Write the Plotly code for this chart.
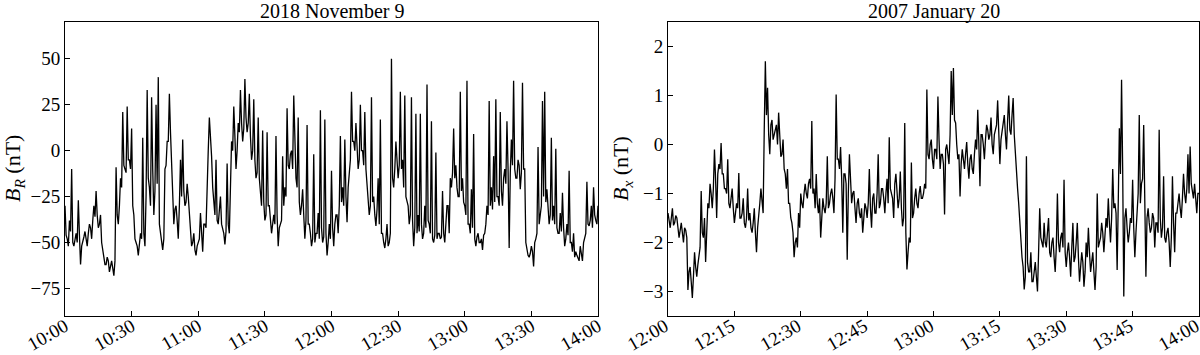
import numpy as np
import pandas as pd
import plotly.graph_objects as go
from plotly.subplots import make_subplots

# ── 2018 November 9 : B_R (nT), 10:00 → 14:00 ──
# spikes / extremes at each full minute
br_peaks = [
    -30, -48, -38, -10, -52, -45, -27, -62, -50, -44,
    -52, -40, -48, -30, -22, -42, -35, -56, -62, -58,
    -66, -60, -68, -9, -40, -15, 21, -10, 24, -5,
    12, -35, -50, -57, -45, 7, -52, 33, -20, 29,
    -35, 25, 40, -46, -54, -10, 5, 31, -5, -40,
    -30, -48, -5, 6, -30, -18, -34, -52, -45, -57,
    -50, -34, -55, -40, -12, 18, -3, -30, -5, -40,
    -25, -42, -51, -7, -45, 5, 24, -10, 15, 33,
    5, 39, 10, 31, -5, 28, -15, 18, -25, 11,
    -38, 10, -30, -45, -35, 8, -52, -40, -3, -20,
    23, -10, 0, 30, -15, 18, -35, -21, -48, 14,
    -40, -52, -2, -45, -34, 22, -50, 17, -57, -40,
    -11, -52, -35, -45, 8, -20, 6, -39, -12, 32,
    5, 15, -10, 25, 0, 21, -20, -35, 29, -25,
    -41, -15, 17, -45, -53, -40, -50, 50, -20, 5,
    -15, 32, -5, 30, -27, -40, 29, -52, 20, -35,
    20, -48, -30, 36, -40, 16, -50, -1, -45, -48,
    -22, -50, -30, -45, -20, 12, -8, -25, 32, -15,
    -30, 38, -40, -21, 9, -52, -45, -50, -54, -45,
    -30, 27, -20, -3, 28, -25, 21, -30, -10, 16,
    -53, 6, 38, -15, -5, -21, 37, -10, -55, -58,
    -52, -63, -48, 2, -35, 27, 32, -21, -40, 7,
    -30, 1, -45, -34, -23, -52, -40, -11, -50, -45,
    -55, -59, -52, -60, -48, -17, -41, -30, -20, -38,
    -30,
]
# dense core of the band, half a minute after each full minute
br_core = [
    -46, -52, -44, -50, -48, -50, -46, -52, -47, -49,
    -45, -42, -38, -36, -35, -40, -50, -58, -62, -60,
    -63, -64, -60, -35, -30, -20, -8, -12, -5, -10,
    -30, -48, -52, -50, -48, -45, -25, -15, -30, -10,
    -22, -18, -40, -50, -48, -8, 5, 10, -20, -32,
    -38, -30, -25, -22, -28, -25, -45, -50, -54, -52,
    -48, -44, -40, -42, 0, 8, -20, -35, -38, -32,
    -40, -45, -44, -40, -20, 0, 8, 0, 10, 15,
    12, 18, 15, 8, 0, -5, -12, -15, -30, -28,
    -35, -30, -38, -40, -40, -35, -42, -38, -30, -25,
    -8, -2, -10, 0, -20, -28, -30, -35, -38, -40,
    -45, -48, -50, -45, -48, -42, -47, -45, -50, -48,
    -42, -40, -35, -30, -28, -30, -25, -20, -5, 5,
    0, 5, -5, 0, -8, -10, -25, -30, -28, -35,
    -32, -40, -45, -50, -48, -52, -45, -15, -10, -5,
    -8, -10, -20, -25, -30, -35, -38, -42, -45, -44,
    -40, -45, -42, -38, -45, -48, -46, -48, -45, -47,
    -45, -42, -30, -15, -12, -15, -20, -25, -22, -28,
    -35, -40, -45, -42, -48, -47, -50, -48, -46, -40,
    -35, -30, -32, -28, -25, -30, -22, -15, -18, -10,
    -12, -8, -10, -15, -8, -12, -10, -50, -57, -56,
    -55, -50, -45, -40, -30, -25, -28, -32, -35, -38,
    -40, -42, -45, -44, -42, -48, -46, -50, -55, -58,
    -57, -60, -55, -50, -45, -40, -38, -42, -35, -40,
]

# ── 2007 January 20 : B_x (nT), 12:00 → 14:00 ──
# spikes / extremes every 30 s
bx_peaks = [
    -1.4, -1.7, -1.3, -1.6, -1.5, -1.9, -1.6, -2.0, -1.75, -2.97,
    -2.5, -3.13, -2.2, -2.7, -2.3, -0.95, -1.9, -2.4, -1.2, -0.8,
    -1.3, -0.1, -1.5, -0.4, 0.03, -0.6, -0.9, -0.3, -1.3, -0.9,
    -1.6, -1.2, -0.58, -1.5, -1.1, -1.7, -0.9, -1.4, -1.8, -1.3,
    -2.2, -1.5, -0.9, -1.4, 1.7, 1.16, -0.2, 0.5, 0.2, 0.4,
    0.65, -0.25, 0.1, -0.6, -0.5, -1.2, -1.6, -2.3, -1.9, -1.4,
    -1.0, -1.3, -0.8, -1.1, -0.7, 0.48, -0.9, -0.6, -1.4, -1.9,
    -1.1, -1.4, -0.24, -1.2, -0.9, -1.4, 1.02, -0.3, -0.05, -1.8,
    -0.6, -2.35, -0.2, -1.2, -0.95, -1.6, -1.1, -1.5, -1.8, -1.2,
    -1.5, -0.5, -1.7, -1.0, -1.4, -0.2, -1.2, -0.9, -1.4, -0.7,
    0.15, -1.0, -1.5, -0.6, -1.3, -0.55, -1.67, 0.44, -2.55, -1.9,
    -0.37, -1.4, -0.9, -1.3, -0.85, -1.1, -0.8, 1.12, -0.3, 0.1,
    -0.5, -0.1, 0.98, -0.5, -0.2, -1.43, 0.0, -0.4, 1.5, 1.56,
    0.44, -0.3, -1.06, -0.1, -0.5, 0.05, -0.7, -0.2, -0.6, 0.1,
    0.71, -0.85, 0.2, -0.3, 0.4, 0.1, 0.55, -0.2, 0.3, 0.9,
    -0.4, 0.3, 0.6, -0.1, 1.0, 0.2, 0.95, -0.24, -0.9, -1.6,
    -2.3, -2.96, -0.24, -2.6, -2.2, -2.8, -2.4, -3.0, -1.3, -2.0,
    -1.6, -2.1, -1.5, -2.3, -1.9, -2.6, -1.0, -2.2, -1.8, -0.72,
    -2.5, -2.0, -2.7, -1.6, -2.3, -1.6, -2.8, -2.2, -2.9, -2.0,
    -1.7, -2.6, -2.2, -2.97, -1.0, -2.0, -1.6, -2.2, -1.5, -1.1,
    -2.0, -0.5, -1.2, -2.56, 0.33, 1.32, -3.1, -1.3, -2.0, -1.5,
    -0.72, -2.3, -1.4, 0.6, -0.8, 0.4, -2.7, -1.3, -1.8, -1.4,
    -2.1, -1.6, 0.3, -1.9, -0.65, -2.0, -1.7, -2.5, -0.65, -2.2,
    -1.4, -1.0, -1.5, -0.6, -1.2, -0.2, -0.04, -1.0, -0.8, -1.4,
    -1.0,
]
# dense core of the band, 15 s after each of those samples
bx_core = [
    -1.6, -1.5, -1.65, -1.45, -1.7, -1.75, -1.8, -1.7, -1.9, -2.6,
    -2.8, -2.7, -2.5, -2.45, -2.1, -1.8, -1.5, -1.6, -1.3, -1.0,
    -0.9, -0.7, -0.6, -0.5, -0.6, -0.9, -1.0, -1.2, -1.1, -1.3,
    -1.4, -1.3, -1.5, -1.4, -1.6, -1.5, -1.55, -1.7, -1.6, -1.8,
    -1.7, -1.2, -1.1, 0.3, 0.6, 0.2, 0.4, 0.1, 0.3, 0.0,
    0.2, -0.2, -0.5, -0.9, -1.2, -1.5, -1.8, -2.0, -2.1, -1.7,
    -1.2, -1.0, -1.0, -0.8, -0.9, -1.0, -1.3, -1.2, -1.1, -1.5,
    -1.3, -1.2, -1.3, -1.0, -1.1, -0.7, -0.3, -0.5, -0.7, -0.6,
    -0.8, -1.0, -0.7, -1.0, -1.3, -1.2, -1.4, -1.3, -1.5, -1.3,
    -1.2, -1.3, -1.1, -1.4, -1.0, -1.3, -0.9, -1.1, -1.0, -1.2,
    -0.9, -1.1, -0.8, -1.0, -1.1, -1.3, -1.5, -1.8, -2.2, -2.0,
    -1.5, -1.1, -1.2, -1.0, -1.1, -1.0, -0.9, -0.2, 0.0, -0.3,
    -0.1, -0.3, 0.1, -0.2, -0.4, -0.1, -0.2, 0.2, 0.6, 0.5,
    0.0, -0.2, -0.4, -0.3, -0.2, -0.4, -0.3, -0.5, -0.2, -0.1,
    0.0, 0.2, 0.0, 0.1, 0.3, 0.2, 0.0, 0.2, 0.4, 0.3,
    0.1, 0.4, 0.2, 0.5, 0.3, 0.6, 0.2, -0.5, -1.2, -2.0,
    -2.5, -2.7, -2.4, -2.6, -2.8, -2.6, -2.7, -2.2, -1.9, -2.1,
    -2.0, -1.8, -2.2, -2.0, -2.3, -2.1, -2.0, -1.9, -2.1, -2.2,
    -2.2, -2.3, -2.1, -2.4, -2.0, -2.3, -2.5, -2.4, -2.6, -2.3,
    -2.2, -2.4, -2.6, -2.5, -2.1, -1.9, -1.8, -1.9, -1.7, -1.6,
    -1.5, -1.3, -1.4, -1.2, -0.6, -0.5, -1.5, -1.7, -1.8, -1.6,
    -1.7, -1.8, -1.0, -1.2, -0.7, -1.0, -1.5, -1.6, -1.7, -1.5,
    -1.6, -1.8, -1.5, -1.7, -1.9, -1.8, -2.0, -1.9, -1.6, -1.4,
    -1.2, -1.3, -1.1, -1.0, -0.9, -1.0, -0.8, -1.1, -1.2, -1.0,
]


def merge_series(start, step, peaks, core, core_offset):
    """interleave the two readings into one time-ordered series"""
    t0 = pd.Timestamp(start)
    s1 = pd.Series(peaks, index=pd.date_range(t0, periods=len(peaks), freq=step))
    s2 = pd.Series(core, index=pd.date_range(t0 + pd.Timedelta(core_offset),
                                             periods=len(core), freq=step))
    return pd.concat([s1, s2]).sort_index()


br = merge_series("2018-11-09 10:00", "60s", br_peaks, br_core, "30s")
bx = merge_series("2007-01-20 12:00", "30s", bx_peaks, bx_core, "15s")

FONT = "Liberation Serif"

# pixel geometry of the two frames (figure is 1200 x 355)
ML, MR, MT, MB = 65, 1, 22, 39
PW = 1200 - ML - MR
PH = 355 - MT - MB


def px_x(px):
    return (px - ML) / PW


def px_y(py):
    return (355 - MB - py) / PH


fig = make_subplots(rows=1, cols=2)

fig.add_trace(go.Scatter(x=br.index, y=br.values, mode="lines",
                         line=dict(color="black", width=1.3), showlegend=False), row=1, col=1)
fig.add_trace(go.Scatter(x=bx.index, y=bx.values, mode="lines",
                         line=dict(color="black", width=1.3), showlegend=False), row=1, col=2)

axis_common = dict(
    showline=True, mirror=True, linecolor="black", linewidth=1,
    ticks="inside", ticklen=5, tickwidth=1, tickcolor="black",
    showgrid=False, zeroline=False, automargin=False,
    tickfont=dict(family=FONT, size=19, color="black"),
)

fig.update_xaxes(**axis_common, tickformat="%H:%M", tickangle=-30,
                 ticklabeloverflow="allow", ticklabelstandoff=-9)
fig.update_yaxes(**axis_common)

fig.update_xaxes(domain=[px_x(65), px_x(598)],
                 range=["2018-11-09 10:00", "2018-11-09 14:00"], dtick=30 * 60 * 1000,
                 row=1, col=1)
# labels of the right panel nudged left so "14:00" stays inside the page
fig.update_xaxes(domain=[px_x(668), px_x(1199)],
                 range=["2007-01-20 12:00", "2007-01-20 14:00"], dtick=15 * 60 * 1000,
                 ticklabelshift=-3, row=1, col=2)
fig.update_yaxes(domain=[0, 1], range=[-90, 70],
                 tickvals=[-75, -50, -25, 0, 25, 50], row=1, col=1)
fig.update_yaxes(domain=[0, 1], range=[-3.5, 2.5],
                 tickvals=[-3, -2, -1, 0, 1, 2], row=1, col=2)

# titles and axis labels
title_font = dict(family=FONT, size=20, color="black")
label_font = dict(family=FONT, size=22, color="black")
fig.add_annotation(text="2018 November 9", x=px_x((65 + 598) / 2), y=px_y(11),
                   xref="paper", yref="paper", showarrow=False,
                   xanchor="center", yanchor="middle", font=title_font)
fig.add_annotation(text="2007 January 20", x=px_x((668 + 1199) / 2), y=px_y(11),
                   xref="paper", yref="paper", showarrow=False,
                   xanchor="center", yanchor="middle", font=title_font)
fig.add_annotation(text="<i>B</i><sub><i>R</i></sub> (nT)", x=px_x(14), y=px_y(169),
                   xref="paper", yref="paper", showarrow=False, textangle=-90,
                   xanchor="center", yanchor="middle", font=label_font)
fig.add_annotation(text="<i>B</i><sub><i>x</i></sub> (nT)", x=px_x(622), y=px_y(169),
                   xref="paper", yref="paper", showarrow=False, textangle=-90,
                   xanchor="center", yanchor="middle", font=label_font)

fig.update_layout(
    width=1200, height=355,
    margin=dict(l=ML, r=MR, t=MT, b=MB, autoexpand=False),
    plot_bgcolor="white", paper_bgcolor="white",
)

# page body has an 8px default margin; drop it so the figure sits at the top-left corner
fig.write_html("out.html", config={"displayModeBar": False},
               post_script="document.body.style.margin = '0';")
